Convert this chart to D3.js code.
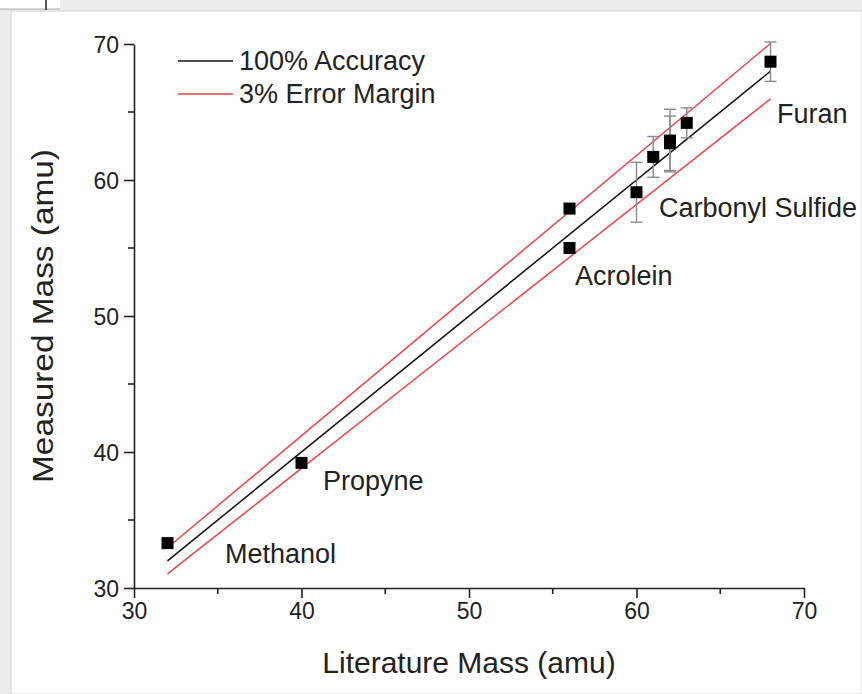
<!DOCTYPE html>
<html lang="en-US">
<head>
<meta charset="utf-8">
<style>
  body { margin: 0; background: #ebebeb; }
  svg { display: block; font-family: "Liberation Sans", Arial, sans-serif; }
</style>
</head>
<body>
<div id="chart"></div>
<script src="https://cdnjs.cloudflare.com/ajax/libs/d3/7.8.5/d3.min.js"></script>
<script>
var WIDTH = 862;
var HEIGHT = 694;

// measured points: literature mass, measured mass, error (+/-)
var litMass  = [32,   40,   56,   56,   60,   61,   62,   62,   63,   68];
var measMass = [33.3, 39.2, 55.0, 57.9, 59.1, 61.7, 62.9, 62.7, 64.2, 68.7];
var errMass  = [0,    0,    0,    0.3,  2.2,  1.5,  2.3,  2.0,  1.1,  1.45];

// compound labels (baseline anchor in data coords)
var labelNames = ['Methanol', 'Propyne', 'Acrolein', 'Carbonyl Sulfide', 'Furan'];
var labelX     = [35.43, 41.28, 56.33, 61.34, 68.39];
var labelY     = [31.84, 37.21, 52.28, 57.28, 64.19];

// reference lines
var lineStart = 32, lineEnd = 68;
var errorMargin = 0.03;

var xTicks = [30, 40, 50, 60, 70];
var yTicks = [30, 40, 50, 60, 70];
var minorTicks = [35, 45, 55, 65];

var legendItems = ['100% Accuracy', '3% Error Margin'];
var legendColors = ['#111', '#ec4448'];

var svg = d3.select('#chart').append('svg').attr('width', WIDTH).attr('height', HEIGHT);

// window frame
svg.append('rect').attr('x', 0).attr('y', 0).attr('width', WIDTH).attr('height', HEIGHT).attr('fill', '#ebebeb');
svg.append('rect').attr('x', 11).attr('y', 11).attr('width', WIDTH - 11).attr('height', HEIGHT - 11)
  .attr('fill', '#fff').attr('stroke', '#d4d4d4');
svg.append('rect').attr('x', 0).attr('y', 0).attr('width', 60).attr('height', 9).attr('fill', '#fff');
svg.append('line').attr('x1', 0).attr('x2', 60).attr('y1', 9).attr('y2', 9).attr('stroke', '#aaa');
svg.append('line').attr('x1', 46).attr('x2', 46).attr('y1', 0).attr('y2', 10).attr('stroke', '#222').attr('stroke-width', 1.5);

var x = d3.scaleLinear().domain([30, 70]).range([134, 804]);
var y = d3.scaleLinear().domain([30, 70]).range([588, 44]);

// axes
var xAxis = svg.append('g').attr('transform', 'translate(0,588)')
  .call(d3.axisBottom(x).tickValues(xTicks).tickSize(10).tickSizeOuter(0));
var yAxis = svg.append('g').attr('transform', 'translate(134,0)')
  .call(d3.axisLeft(y).tickValues(yTicks).tickSize(10).tickSizeOuter(0));
[xAxis, yAxis].forEach(function (g) {
  g.select('.domain').attr('stroke', '#222').attr('stroke-width', 1.6);
  g.selectAll('.tick line').attr('stroke', '#222').attr('stroke-width', 1.6);
  g.selectAll('.tick text').attr('fill', '#222').style('font-size', '23px')
    .style('font-family', '"Liberation Sans", Arial, sans-serif');
});
xAxis.selectAll('.tick text').attr('dy', null).attr('y', 31);
yAxis.selectAll('.tick text').attr('x', -15).attr('dy', '0.35em');

svg.append('g').selectAll('line').data(minorTicks).join('line')
  .attr('x1', d => x(d)).attr('x2', d => x(d)).attr('y1', 588).attr('y2', 594)
  .attr('stroke', '#222').attr('stroke-width', 1.6);
svg.append('g').selectAll('line').data(minorTicks).join('line')
  .attr('y1', d => y(d)).attr('y2', d => y(d)).attr('x1', 128).attr('x2', 134)
  .attr('stroke', '#222').attr('stroke-width', 1.6);

// axis titles
svg.append('text').attr('x', 469).attr('y', 673).attr('text-anchor', 'middle')
  .style('font-size', '30px').attr('fill', '#222').text('Literature Mass (amu)');
svg.append('text').attr('transform', 'translate(53,316) rotate(-90)').attr('text-anchor', 'middle')
  .attr('textLength', 334).attr('lengthAdjust', 'spacingAndGlyphs')
  .style('font-size', '29px').attr('fill', '#222').text('Measured Mass (amu)');

// reference lines
var refLines = [
  { k: 1, color: legendColors[0] },
  { k: 1 + errorMargin, color: legendColors[1] },
  { k: 1 - errorMargin, color: legendColors[1] }
];
svg.append('g').selectAll('line').data(refLines).join('line')
  .attr('x1', x(lineStart)).attr('x2', x(lineEnd))
  .attr('y1', d => y(lineStart * d.k)).attr('y2', d => y(lineEnd * d.k))
  .attr('stroke', d => d.color).attr('stroke-width', 1.5);

// error bars
var pts = litMass.map((v, i) => ({ x: v, y: measMass[i], e: errMass[i] }));
var eb = svg.append('g').selectAll('g').data(pts.filter(d => d.e > 0)).join('g')
  .attr('stroke', '#8a8a8a').attr('stroke-width', 1.4);
eb.append('line').attr('x1', d => x(d.x)).attr('x2', d => x(d.x))
  .attr('y1', d => y(d.y - d.e)).attr('y2', d => y(d.y + d.e));
eb.append('line').attr('x1', d => x(d.x) - 6).attr('x2', d => x(d.x) + 6)
  .attr('y1', d => y(d.y - d.e)).attr('y2', d => y(d.y - d.e));
eb.append('line').attr('x1', d => x(d.x) - 6).attr('x2', d => x(d.x) + 6)
  .attr('y1', d => y(d.y + d.e)).attr('y2', d => y(d.y + d.e));

// points
svg.append('g').selectAll('rect').data(pts).join('rect')
  .attr('x', d => x(d.x) - 6).attr('y', d => y(d.y) - 6)
  .attr('width', 12).attr('height', 12).attr('fill', '#000');

// compound labels
svg.append('g').selectAll('text').data(labelNames).join('text')
  .attr('x', (d, i) => x(labelX[i])).attr('y', (d, i) => y(labelY[i]))
  .style('font-size', '27px').attr('fill', '#222').text(d => d);

// legend
var leg = svg.append('g').selectAll('g').data(legendItems).join('g')
  .attr('transform', (d, i) => 'translate(178,' + (61 + i * 33) + ')');
leg.append('line').attr('x1', 0).attr('x2', 55).attr('y1', 0).attr('y2', 0)
  .attr('stroke', (d, i) => legendColors[i]).attr('stroke-width', 1.6);
leg.append('text').attr('x', 61).attr('y', 9).style('font-size', '27px').attr('fill', '#222').text(d => d);
</script>
</body>
</html>
